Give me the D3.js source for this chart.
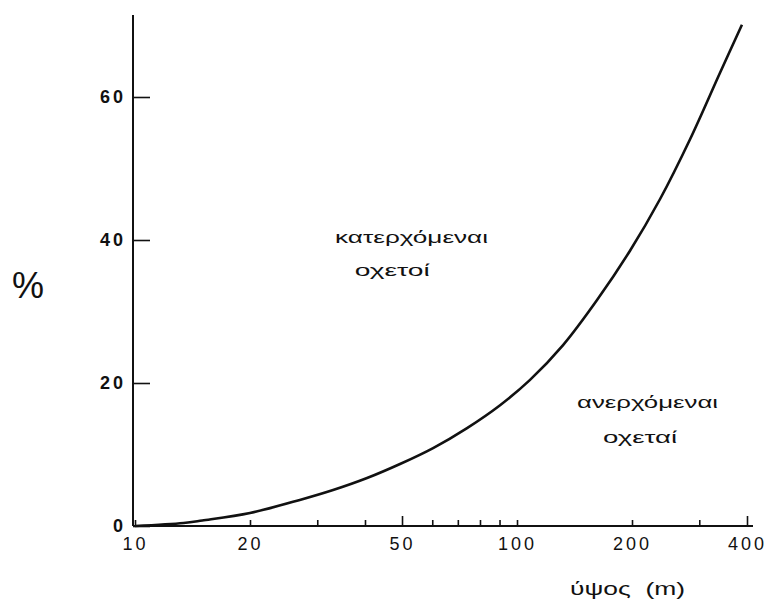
<!DOCTYPE html>
<html>
<head>
<meta charset="utf-8">
<script src="https://cdn.jsdelivr.net/npm/d3@7"></script>
<style>
body { margin:0; background:white; }
text { font-family:"Liberation Sans", Arial, sans-serif; fill:#111; }
.domain { stroke:#111; stroke-width:2; }
.tick line { stroke:#111; stroke-width:1.6; }
</style>
</head>
<body>
<svg id="graph1"></svg>
<script>

// height in m (log axis) and percent
var heights  = [10, 13.4, 15, 20, 27, 33, 40.5, 49.4, 60.3, 74, 90.3, 108, 132, 162, 197.6, 236.7, 283.8, 340, 388]
var percents = [0, 0.42, 0.77, 1.82, 3.64, 5.03, 6.71, 8.67, 10.9, 13.7, 16.9, 20.4, 25.3, 31.6, 38.5, 45.7, 54.1, 63.4, 70.1]

var xTicks = [10, 20, 30, 40, 50, 60, 70, 80, 90, 100, 200, 300, 400]
var xLabels = [10, 20, 50, 100, 200, 400]
var yTicks = [0, 20, 40, 60]

var annotations = [
    {text:"κατερχόμεναι", x:33.4, y:39.6, len:153},
    {text:"οχετοί", x:37.6, y:35.0, len:75},
    {text:"ανερχόμεναι", x:143.6, y:16.5, len:141},
    {text:"οχεταί", x:168, y:11.6, len:74}
]

var drawAxes = function(svg,xScale,yScale)
{
    var xAxis = d3.axisBottom(xScale)
        .tickValues(xTicks)
        .tickSizeInner(-6)
        .tickSizeOuter(0)
        .tickPadding(11)
        .tickFormat(function(d)
        {
            return xLabels.indexOf(d) >= 0 ? d : ""
        })
    var yAxis = d3.axisLeft(yScale)
        .tickValues(yTicks)
        .tickSizeInner(-17)
        .tickSizeOuter(0)
        .tickPadding(7)

    var gx = svg.append("g")
        .attr("transform","translate(0,"+yScale(0)+")")
        .call(xAxis)
    gx.select(".domain").attr("d","M133,0H753")
    gx.selectAll("text")
        .attr("font-size",18)
        .attr("letter-spacing",3)
        .attr("font-family","Liberation Sans")
    gx.selectAll(".tick line")
        .attr("y2",function(d){ return (d==50 || d==400) ? -10 : -6 })

    var gy = svg.append("g")
        .attr("transform","translate(133,0)")
        .call(yAxis)
    gy.select(".domain").attr("d","M0,15V"+yScale(0))
    gy.selectAll("text")
        .attr("font-size",18)
        .attr("letter-spacing",3)
        .attr("font-weight","bold")
        .attr("font-family","Liberation Sans")
}

var drawCurve = function(svg,xScale,yScale)
{
    var points = heights.map(function(h,i){ return {h:h, p:percents[i]} })
    var line = d3.line()
        .x(function(d){ return xScale(d.h) })
        .y(function(d){ return yScale(d.p) })
        .curve(d3.curveCatmullRom.alpha(0.5))
    svg.append("path")
        .datum(points)
        .attr("d",line)
        .attr("fill","none")
        .attr("stroke","#111")
        .attr("stroke-width",2.6)
}

var drawLabels = function(svg,xScale,yScale)
{
    var labels = svg.append("g")

    labels.selectAll(".note")
        .data(annotations)
        .enter()
        .append("text")
        .classed("note",true)
        .text(function(d){ return d.text })
        .attr("x",function(d){ return xScale(d.x) })
        .attr("y",function(d){ return yScale(d.y) })
        .attr("font-size",17)
        .attr("textLength",function(d){ return d.len })
        .attr("lengthAdjust","spacingAndGlyphs")

    //y label
    labels.append("text")
        .text("%")
        .attr("x",28)
        .attr("y",298)
        .attr("text-anchor","middle")
        .attr("font-size",36)

    //x label
    labels.append("text")
        .text("ύψος  (m)")
        .attr("x",570)
        .attr("y",595)
        .attr("font-size",18)
        .attr("textLength",115)
        .attr("lengthAdjust","spacingAndGlyphs")
        .style("white-space","pre")
}

var initGraph = function()
{
    var screen = {width:773,height:601}

    var svg = d3.select("#graph1")
        .attr("width",screen.width)
        .attr("height",screen.height)

    var xScale = d3.scaleLog()
        .domain([10,400])
        .range([135,747])

    var yScale = d3.scaleLinear()
        .domain([0,60])
        .range([526,97])

    drawAxes(svg,xScale,yScale)
    drawCurve(svg,xScale,yScale)
    drawLabels(svg,xScale,yScale)
}

initGraph()
</script>
</body>
</html>
